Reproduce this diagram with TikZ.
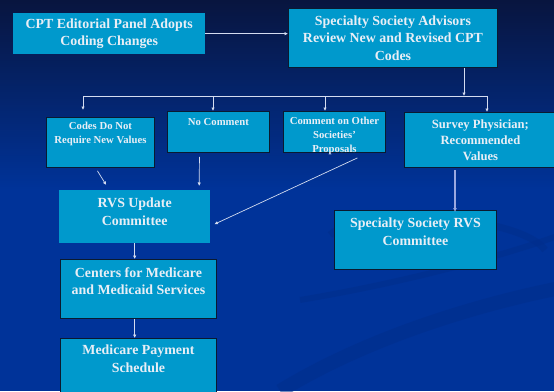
\documentclass[tikz,border=0pt]{standalone}
\usepackage{fontspec}
\setmainfont{Liberation Serif}
\usetikzlibrary{arrows.meta}

\definecolor{boxblue}{HTML}{0099CC}
\definecolor{bgtop}{HTML}{08153F}
\definecolor{bgbot}{HTML}{003399}
\definecolor{swoosh}{HTML}{002E8C}
\definecolor{wire}{HTML}{D4DCF0}
\definecolor{thickwire}{HTML}{9AA8E0}
\definecolor{ink}{HTML}{E8EEF6}
\definecolor{edge}{HTML}{0A1A30}

\tikzset{
  box/.style={fill=boxblue, draw=none, inner sep=0pt, anchor=north west},
  framed/.style={box, draw=edge, line width=0.9pt},
  caption/.style={align=center, text=ink, font=\bfseries, inner sep=0pt},
  big/.style={caption, font=\bfseries\fontsize{13.9}{17.5}\selectfont},
  mid/.style={caption, font=\bfseries\fontsize{12.6}{16}\selectfont},
  small/.style={caption, font=\bfseries\fontsize{10.7}{14}\selectfont},
  conn/.style={draw=wire, line width=0.7pt, -{Latex[length=3.5pt,width=3.5pt]}},
  bus/.style={draw=wire, line width=0.7pt},
}

\begin{document}
\begin{tikzpicture}[x=1pt, y=-1pt]
  \useasboundingbox (0,0) rectangle (554,391);

  % backdrop: dark at the top, blue below, with faint swooshes
  \fill[bgbot] (0,0) rectangle (554,391);
  \shade[top color=bgtop, bottom color=bgbot] (0,0) rectangle (554,190);
  \begin{scope}[opacity=0.55]
    \draw[swoosh, line width=14pt] (280,391) .. controls (380,330) and (500,300) .. (560,288);
    \draw[swoosh, line width=7pt] (330,235) .. controls (360,205) and (520,215) .. (545,250);
    \draw[swoosh, line width=6pt] (300,300) .. controls (420,280) and (520,250) .. (560,235);
  \end{scope}

  % boxes
  \node[box, minimum width=192pt, minimum height=41pt] (cpt) at (13,13) {};
  \node[framed, minimum width=209pt, minimum height=59pt] (adv) at (288,8) {};
  \node[framed, minimum width=108pt, minimum height=50pt] (codes) at (46,117) {};
  \node[framed, minimum width=102pt, minimum height=41pt] (noc) at (167,111) {};
  \node[framed, minimum width=102pt, minimum height=41pt] (com) at (283,111) {};
  \node[framed, minimum width=152pt, minimum height=55pt] (sur) at (404,112) {};
  \node[box, minimum width=151pt, minimum height=53pt] (rvs) at (59,190) {};
  \node[framed, minimum width=162pt, minimum height=59pt] (srvs) at (334,210) {};
  \node[framed, minimum width=156pt, minimum height=59pt] (cms) at (60,259) {};
  \node[framed, minimum width=156pt, minimum height=70pt] (mps) at (60,338) {};

  % captions
  \node[big] at (cpt.center) {CPT Editorial Panel Adopts\\Coding Changes};
  \node[big] at (adv.center) {Specialty Society Advisors\\Review New and Revised CPT\\Codes};
  \node[small] at ([yshift=-17pt]codes.north) {Codes Do Not\\Require New Values};
  \node[small] at ([yshift=-11pt]noc.north) {No Comment};
  \node[small] at ([yshift=-25pt]com.north) {Comment on Other\\Societies'\\Proposals};
  \node[mid] at (sur.center) {Survey Physician;\\Recommended\\Values};
  \node[big] at ([yshift=-21.5pt]rvs.north) {RVS Update\\Committee};
  \node[big] at ([yshift=-21.5pt]srvs.north) {Specialty Society RVS\\Committee};
  \node[big] at ([yshift=-22pt]cms.north) {Centers for Medicare\\and Medicaid Services};
  \node[big] at ([yshift=-21pt]mps.north) {Medicare Payment\\Schedule};

  % distribution bus below the advisors
  \coordinate (drop) at (464,96);
  \coordinate (busL) at (83,96);
  \coordinate (busB) at (213,96);
  \coordinate (busC) at (325,96);
  \coordinate (busR) at (487,96);
  \coordinate (sdrop) at (455,170);

  % connectors
  \draw[conn] (cpt.east) -- (cpt.east -| adv.west);
  \draw[conn] (adv.south -| drop) -- (drop);
  \draw[bus] (busL) -- (busR);
  \draw[conn] (busL) -- ([yshift=7pt]codes.north -| busL);
  \draw[conn] (busB) -- (noc.north -| busB);
  \draw[conn] (busC) -- (com.north -| busC);
  \draw[conn] (busR) -- (sur.north -| busR);

  \draw[conn] ([shift={(-3pt,-3pt)}]codes.south) -- ([shift={(-28.5pt,5pt)}]rvs.north);
  \draw[conn] ([shift={(-19pt,-4pt)}]noc.south) -- ([shift={(64.5pt,4pt)}]rvs.north);
  \draw[conn] ([shift={(23pt,-5pt)}]com.south) -- ([shift={(4pt,-7.5pt)}]rvs.east);
  \draw[draw=thickwire, line width=1.3pt, -{Latex[length=4pt,width=4pt]}]
    (sdrop) -- ([yshift=-2pt]srvs.north -| sdrop);
  \draw[conn] (rvs.south) -- (rvs.south |- cms.north);
  \draw[conn] (rvs.south |- cms.south) -- (rvs.south |- mps.north);
\end{tikzpicture}
\end{document}
